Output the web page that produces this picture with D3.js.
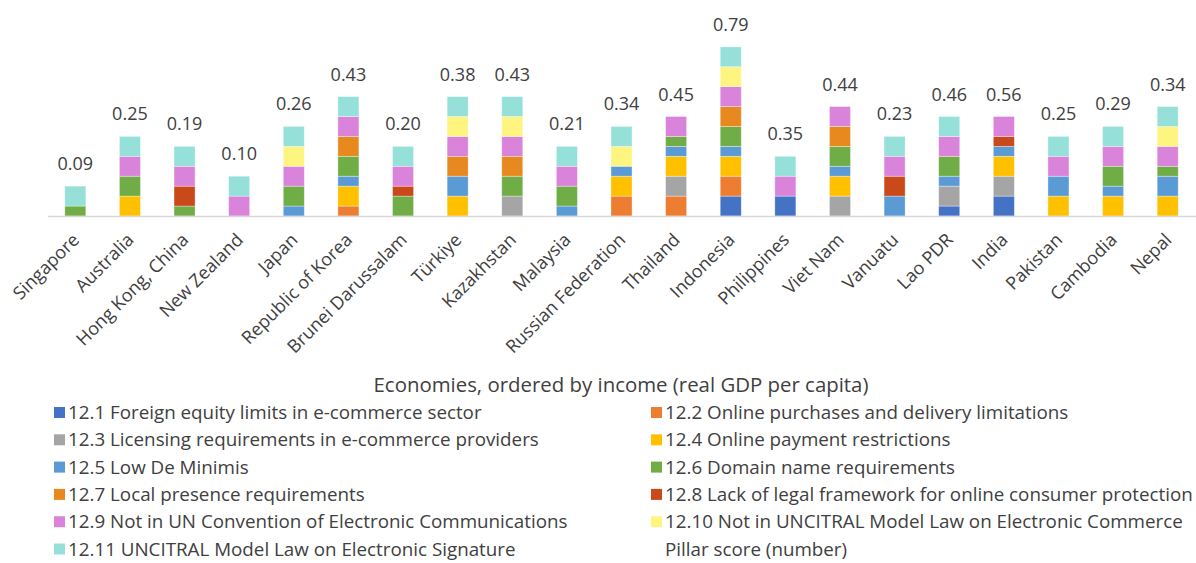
<!DOCTYPE html>
<html>
<head>
<meta charset="utf-8">
<script src="https://cdn.jsdelivr.net/npm/d3@7"></script>
<style>
  html, body { margin: 0; padding: 0; background: #fff; }
  svg { display: block; font-family: "Open Sans", sans-serif; }
</style>
</head>
<body>
<svg id="chart" width="1196" height="563"></svg>
<script>
// Economies, ordered by income (real GDP per capita)
const economies = ["Singapore", "Australia", "Hong Kong, China", "New Zealand", "Japan",
  "Republic of Korea", "Brunei Darussalam", "Türkiye", "Kazakhstan", "Malaysia",
  "Russian Federation", "Thailand", "Indonesia", "Philippines", "Viet Nam", "Vanuatu",
  "Lao PDR", "India", "Pakistan", "Cambodia", "Nepal"];

// Measure contributions per economy (1 = full restriction, 0.5 = partial)
const m12_1  = [0, 0, 0, 0, 0, 0, 0, 0, 0, 0, 0, 0, 1, 1, 0, 0, 0.5, 1, 0, 0, 0];
const m12_2  = [0, 0, 0, 0, 0, 0.5, 0, 0, 0, 0, 1, 1, 1, 0, 0, 0, 0, 0, 0, 0, 0];
const m12_3  = [0, 0, 0, 0, 0, 0, 0, 0, 1, 0, 0, 1, 0, 0, 1, 0, 1, 1, 0, 0, 0];
const m12_4  = [0, 1, 0, 0, 0, 1, 0, 1, 0, 0, 1, 1, 1, 0, 1, 0, 0, 1, 1, 1, 1];
const m12_5  = [0, 0, 0, 0, 0.5, 0.5, 0, 1, 0, 0.5, 0.5, 0.5, 0.5, 0, 0.5, 1, 0.5, 0.5, 1, 0.5, 1];
const m12_6  = [0.5, 1, 0.5, 0, 1, 1, 1, 0, 1, 1, 0, 0.5, 1, 0, 1, 0, 1, 0, 0, 1, 0.5];
const m12_7  = [0, 0, 0, 0, 0, 1, 0, 1, 1, 0, 0, 0, 1, 0, 1, 0, 0, 0, 0, 0, 0];
const m12_8  = [0, 0, 1, 0, 0, 0, 0.5, 0, 0, 0, 0, 0, 0, 0, 0, 1, 0, 0.5, 0, 0, 0];
const m12_9  = [0, 1, 1, 1, 1, 1, 1, 1, 1, 1, 0, 1, 1, 1, 1, 1, 1, 1, 1, 1, 1];
const m12_10 = [0, 0, 0, 0, 1, 0, 0, 1, 1, 0, 1, 0, 1, 0, 0, 0, 0, 0, 0, 0, 1];
const m12_11 = [1, 1, 1, 1, 1, 1, 1, 1, 1, 1, 1, 0, 1, 1, 0, 1, 1, 0, 1, 1, 1];

// Pillar score (number)
const pillarScore = [0.09, 0.25, 0.19, 0.10, 0.26, 0.43, 0.20, 0.38, 0.43, 0.21, 0.34,
  0.45, 0.79, 0.35, 0.44, 0.23, 0.46, 0.56, 0.25, 0.29, 0.34];

const seriesLabels = [
  "12.1 Foreign equity limits in e-commerce sector",
  "12.2 Online purchases and delivery limitations",
  "12.3 Licensing requirements in e-commerce providers",
  "12.4 Online payment restrictions",
  "12.5 Low De Minimis",
  "12.6 Domain name requirements",
  "12.7 Local presence requirements",
  "12.8 Lack of legal framework for online consumer protection",
  "12.9 Not in UN Convention of Electronic Communications",
  "12.10 Not in UNCITRAL Model Law on Electronic Commerce",
  "12.11 UNCITRAL Model Law on Electronic Signature"
];
const seriesValues = [m12_1, m12_2, m12_3, m12_4, m12_5, m12_6, m12_7, m12_8, m12_9, m12_10, m12_11];
const seriesColors = ["#4472C4", "#ED7D31", "#A5A5A5", "#FFC000", "#5B9BD5", "#70AD47",
  "#E8891F", "#C9491B", "#DA83DB", "#FDF57F", "#96E0DA"];

const svg = d3.select("#chart");

const keys = seriesLabels.map((_, i) => "s" + i);
const rows = economies.map((name, j) => {
  const r = { name };
  keys.forEach((k, i) => { r[k] = seriesValues[i][j]; });
  return r;
});
const stacked = d3.stack().keys(keys)(rows);

const x = d3.scaleBand().domain(economies).range([48, 1195])
  .paddingInner(0.615).paddingOuter(0.3075);
const y = d3.scaleLinear().domain([0, 10]).range([216, 17]);

// stacked bars
const layers = svg.append("g").selectAll("g").data(stacked).join("g")
  .attr("fill", (d, i) => seriesColors[i]);
layers.selectAll("rect")
  .data(d => d.map((v, j) => ({ v, j })).filter(e => e.v[1] - e.v[0] > 0))
  .join("rect")
  .attr("x", e => x(economies[e.j]))
  .attr("width", x.bandwidth())
  .attr("y", e => y(e.v[1]))
  .attr("height", e => y(e.v[0]) - y(e.v[1]))
  .attr("stroke", "rgba(255,255,255,0.45)")
  .attr("stroke-width", 0.75);

// category axis
const xAxis = svg.append("g").attr("transform", "translate(0,216)")
  .call(d3.axisBottom(x).tickSize(0).tickPadding(0));
xAxis.select(".domain").attr("stroke", "#d9d9d9").attr("stroke-width", 1.5)
  .attr("d", "M48,0.5H1196");
xAxis.selectAll(".tick text")
  .attr("fill", "#404040")
  .style("font-family", "'Open Sans', sans-serif")
  .style("font-size", "18px")
  .attr("text-anchor", "end")
  .attr("dy", null)
  .attr("y", null)
  .attr("transform", "translate(5,25) rotate(-45)");

// pillar score labels at the top of each stack
const totals = economies.map((_, j) => d3.sum(seriesValues, s => s[j]));
svg.append("g").selectAll("text").data(pillarScore).join("text")
  .attr("x", (d, j) => x(economies[j]) + x.bandwidth() / 2)
  .attr("y", (d, j) => y(totals[j]) - 16)
  .attr("text-anchor", "middle")
  .attr("fill", "#404040")
  .style("font-size", "18px")
  .text(d => d3.format(".2f")(d));

// axis title
svg.append("text")
  .attr("x", 621).attr("y", 392)
  .attr("text-anchor", "middle")
  .attr("fill", "#404040")
  .style("font-size", "20.4px")
  .text("Economies, ordered by income (real GDP per capita)");

// legend, two columns
const legendItems = seriesLabels.map((t, i) => ({ t, c: seriesColors[i] }))
  .concat([{ t: "Pillar score (number)", c: null }]);
const legend = svg.append("g").selectAll("g").data(legendItems).join("g")
  .attr("transform", (d, i) => {
    const col = i % 2, row = Math.floor(i / 2);
    return `translate(${col === 0 ? 54 : 651},${413 + row * 27.3})`;
  });
legend.filter(d => d.c).append("rect")
  .attr("x", 0).attr("y", -6).attr("width", 11).attr("height", 11)
  .attr("fill", d => d.c);
legend.append("text")
  .attr("x", 14).attr("y", 6)
  .attr("fill", "#404040")
  .style("font-size", "18.8px")
  .text(d => d.t);
</script>
</body>
</html>
